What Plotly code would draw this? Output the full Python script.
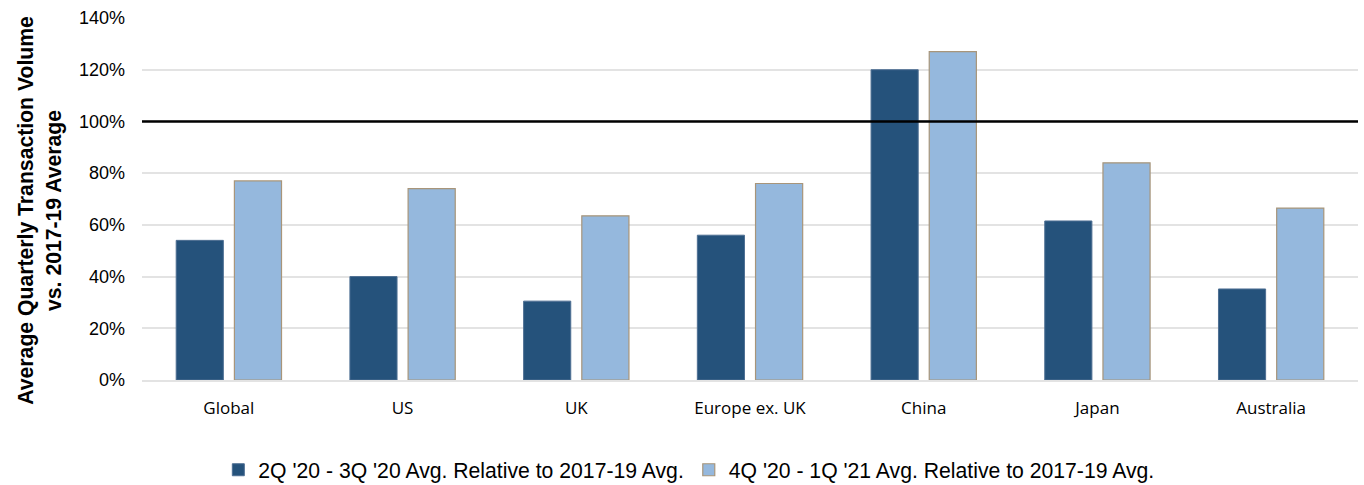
import plotly.graph_objects as go

categories = ["Global", "US", "UK", "Europe ex. UK", "China", "Japan", "Australia"]
series1_name = "2Q '20 - 3Q '20 Avg. Relative to 2017-19 Avg."
series1 = [0.54, 0.40, 0.305, 0.56, 1.20, 0.615, 0.352]
series2_name = "4Q '20 - 1Q '21 Avg. Relative to 2017-19 Avg."
series2 = [0.77, 0.74, 0.635, 0.76, 1.27, 0.84, 0.665]
ref_level = 1.0
y_ticks = [0, 0.2, 0.4, 0.6, 0.8, 1.0, 1.2, 1.4]
y_tick_labels = ["0%", "20%", "40%", "60%", "80%", "100%", "120%", "140%"]
y_title = "<b>Average Quarterly Transaction Volume<br>vs. 2017-19 Average</b>"

fig = go.Figure()
fig.add_trace(go.Bar(
    x=categories, y=series1, name=series1_name,
    marker=dict(color="#25527B", line=dict(color="#4E6F93", width=1)),
))
fig.add_trace(go.Bar(
    x=categories, y=series2, name=series2_name,
    marker=dict(color="#95B8DD", line=dict(color="#A8957A", width=1.2)),
))
fig.add_shape(type="line", xref="paper", x0=0, x1=1, yref="y", y0=ref_level, y1=ref_level,
              line=dict(color="black", width=2.5), layer="above")
fig.add_annotation(text=y_title, textangle=-90, xref="paper", yref="paper",
                   x=-0.084, y=0.47, xanchor="center", yanchor="middle", showarrow=False,
                   font=dict(size=21.2, family="Liberation Sans, Arial", color="black"),
                   align="center")

fig.update_layout(
    width=1364, height=485,
    margin=dict(l=142, r=6, t=18, b=105, autoexpand=False),
    plot_bgcolor="white", paper_bgcolor="white",
    barmode="group", bargap=0.33, bargroupgap=0.19,
    font=dict(family="Liberation Sans, Arial", color="black"),
    legend=dict(orientation="h", xref="container", yref="container",
                x=0.505, xanchor="center", y=0.031, yanchor="middle",
                font=dict(size=21.2, family="Liberation Sans, Arial"), traceorder="normal",
                itemwidth=30),
    yaxis=dict(
        range=[0, 1.4], tickvals=y_ticks, ticktext=y_tick_labels,
        tickfont=dict(size=18), showgrid=True, gridcolor="#E3E3E3", gridwidth=2,
        zeroline=False, showline=False, ticks="", ticklabelstandoff=16,
    ),
    xaxis=dict(
        tickfont=dict(size=17, family="Open Sans, sans-serif"),
        showline=True, linecolor="#E3E3E3", linewidth=2, ticks="",
        ticklabelstandoff=12,
    ),
)

fig.write_html("out.html")
